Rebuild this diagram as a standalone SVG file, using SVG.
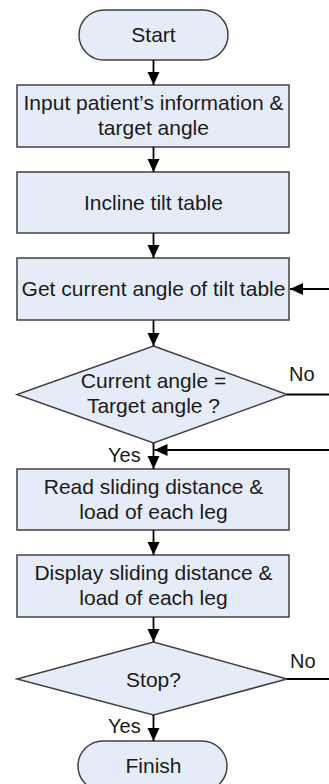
<svg xmlns="http://www.w3.org/2000/svg" width="329" height="784" viewBox="0 0 329 784">
<style>
.n{fill:#E6ECF7;stroke:#404040;stroke-width:1.5}
.t{font-family:"Liberation Sans",Arial,sans-serif;font-size:21px;fill:#1a1a1a;text-anchor:middle}
.l{font-family:"Liberation Sans",Arial,sans-serif;font-size:20px;fill:#1a1a1a}
.c{fill:none;stroke:#000;stroke-width:1.8}
</style>
<defs>
<marker id="a" markerUnits="userSpaceOnUse" markerWidth="14" markerHeight="14" viewBox="0 0 14 14" refX="13" refY="7" orient="auto">
<path d="M0,1 L13,7 L0,13 Z" fill="#000"/>
</marker>
</defs>
<rect width="329" height="784" fill="#fff"/>
<g id="start"><rect class="n" x="79" y="10" width="149" height="50" rx="25"/><text class="t" x="153.5" y="42">Start</text></g>
<g id="input"><rect class="n" x="17" y="85" width="272" height="62"/><text class="t" x="153.5" y="110">Input patient’s information &amp;</text><text class="t" x="153.5" y="135">target angle</text></g>
<g id="incline"><rect class="n" x="17" y="172" width="272" height="61"/><text class="t" x="153.5" y="210">Incline tilt table</text></g>
<g id="get"><rect class="n" x="17" y="258" width="272" height="62"/><text class="t" x="153.5" y="296">Get current angle of tilt table</text></g>
<g id="check"><polygon class="n" points="153.5,346 287,394.5 153.5,443 17,394.5"/><text class="t" x="153.5" y="388">Current angle =</text><text class="t" x="153.5" y="413">Target angle ?</text></g>
<g id="read"><rect class="n" x="17" y="469" width="272" height="61"/><text class="t" x="153.5" y="494">Read sliding distance &amp;</text><text class="t" x="153.5" y="519">load of each leg</text></g>
<g id="display"><rect class="n" x="17" y="555" width="272" height="62"/><text class="t" x="153.5" y="580">Display sliding distance &amp;</text><text class="t" x="153.5" y="605">load of each leg</text></g>
<g id="stop"><polygon class="n" points="153.5,642 287,679 153.5,715 17,679"/><text class="t" x="153.5" y="687">Stop?</text></g>
<g id="finish"><rect class="n" x="78" y="741" width="149" height="50" rx="25"/><text class="t" x="153.5" y="773">Finish</text></g>
<g id="connectors">
<line class="c" x1="153.5" y1="60" x2="153.5" y2="85" marker-end="url(#a)"/>
<line class="c" x1="153.5" y1="147" x2="153.5" y2="172" marker-end="url(#a)"/>
<line class="c" x1="153.5" y1="233" x2="153.5" y2="258" marker-end="url(#a)"/>
<line class="c" x1="153.5" y1="320" x2="153.5" y2="346" marker-end="url(#a)"/>
<line class="c" x1="153.5" y1="443" x2="153.5" y2="469" marker-end="url(#a)"/>
<line class="c" x1="153.5" y1="530" x2="153.5" y2="555" marker-end="url(#a)"/>
<line class="c" x1="153.5" y1="617" x2="153.5" y2="642" marker-end="url(#a)"/>
<line class="c" x1="153.5" y1="715" x2="153.5" y2="741" marker-end="url(#a)"/>
<line class="c" x1="329" y1="289" x2="290" y2="289" marker-end="url(#a)"/>
<line class="c" x1="287" y1="394.5" x2="329" y2="394.5"/>
<line class="c" x1="329" y1="450" x2="154.5" y2="450" marker-end="url(#a)"/>
<line class="c" x1="287" y1="679" x2="329" y2="679"/>
<text class="l" x="289" y="381">No</text>
<text class="l" x="108" y="462">Yes</text>
<text class="l" x="290" y="668">No</text>
<text class="l" x="108" y="733">Yes</text>
</g>
</svg>
